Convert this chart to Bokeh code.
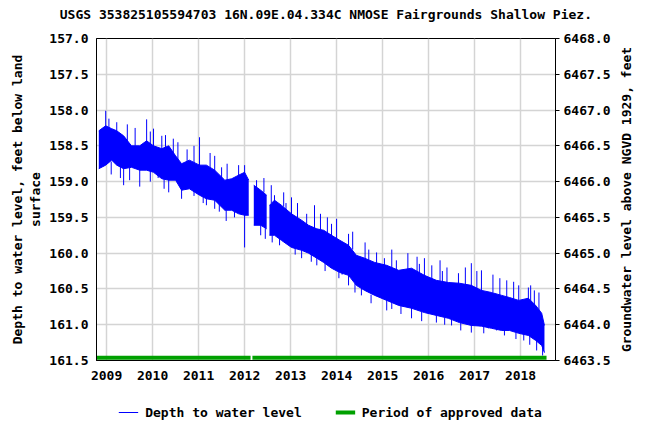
import numpy as np
from bokeh.plotting import figure
from bokeh.layouts import column, row
from bokeh.models import (Range1d, LinearAxis, FixedTicker, PrintfTickFormatter,
                          Legend, LegendItem, Label)
from bokeh.embed import file_html
from bokeh.resources import INLINE

FONT = "DejaVu Sans Mono"
NAN = float("nan")

title_text = "USGS 353825105594703 16N.09E.04.334C NMOSE Fairgrounds Shallow Piez."
left_label = "Depth to water level, feet below land\nsurface"
right_label = "Groundwater level above NGVD 1929, feet"
depth_ticks = [157.0, 157.5, 158.0, 158.5, 159.0, 159.5, 160.0, 160.5, 161.0, 161.5]
elev_ticks = [6463.5, 6464.0, 6464.5, 6465.0, 6465.5, 6466.0, 6466.5, 6467.0, 6467.5, 6468.0]
year_ticks = [2009, 2010, 2011, 2012, 2013, 2014, 2015, 2016, 2017, 2018]

# dense band of the depth record (decimal year, shallow edge, deep edge); NaN = gap
band_t = [2008.83, 2008.98, 2009.11, 2009.22, 2009.37, 2009.54, 2009.72, 2009.87,
          2010.02, 2010.20, 2010.35, 2010.50, 2010.63, 2010.80, 2011.02, 2011.17,
          2011.35, 2011.57, 2011.72, 2011.87, 2012.00, 2012.09, NAN,
          2012.20, 2012.35, 2012.48, NAN,
          2012.54, 2012.65, 2012.80, 2013.02, 2013.24, 2013.39, 2013.57, 2013.72,
          2013.89, 2014.07, 2014.26, 2014.43, 2014.61, 2014.83, 2015.09, 2015.35,
          2015.63, 2015.91, 2016.17, 2016.43, 2016.67, 2016.93, 2017.15, 2017.37,
          2017.59, 2017.76, 2017.96, 2018.17, 2018.33, 2018.46, 2018.52]
band_top = [158.29, 158.22, 158.26, 158.29, 158.36, 158.50, 158.50, 158.43,
            158.50, 158.54, 158.50, 158.64, 158.75, 158.70, 158.77, 158.77,
            158.84, 158.98, 158.96, 158.91, 158.87, 158.98, NAN,
            159.05, 159.12, 159.19, NAN,
            159.33, 159.26, 159.33, 159.45, 159.54, 159.61, 159.66, 159.68,
            159.75, 159.82, 159.89, 160.03, 160.07, 160.13, 160.17, 160.24,
            160.21, 160.31, 160.38, 160.41, 160.42, 160.45, 160.52, 160.55,
            160.59, 160.62, 160.66, 160.63, 160.73, 160.84, 161.01]
band_bot = [158.82, 158.77, 158.70, 158.77, 158.82, 158.80, 158.84, 158.84,
            158.87, 158.96, 158.98, 158.98, 159.12, 159.10, 159.19, 159.24,
            159.26, 159.40, 159.40, 159.45, 159.47, 159.47, NAN,
            159.61, 159.61, 159.66, NAN,
            159.75, 159.75, 159.82, 159.92, 159.96, 160.00, 160.07, 160.13,
            160.21, 160.27, 160.31, 160.45, 160.52, 160.59, 160.66, 160.73,
            160.77, 160.83, 160.87, 160.91, 160.97, 161.01, 161.02, 161.05,
            161.08, 161.08, 161.12, 161.15, 161.22, 161.29, 161.39]

# upward (shallower) spikes: decimal year, tip depth, base depth
up_t = [2008.98, 2009.05, 2009.22, 2009.45, 2009.62, 2009.87, 2009.95, 2010.02,
        2010.20, 2010.28, 2010.45, 2010.55, 2010.75, 2010.90, 2011.02, 2011.25,
        2011.35, 2011.50, 2011.62, 2011.87, 2012.00, 2012.26, 2012.42, 2012.58,
        2012.65, 2012.85, 2012.90, 2013.02, 2013.15, 2013.35, 2013.52, 2013.65,
        2013.80, 2013.89, 2014.00, 2014.26, 2014.35, 2014.62, 2014.70, 2014.87,
        2015.04, 2015.20, 2015.30, 2015.55, 2015.75, 2015.80, 2015.91, 2016.07,
        2016.25, 2016.30, 2016.40, 2016.65, 2016.80, 2016.93, 2017.05, 2017.15,
        2017.40, 2017.55, 2017.70, 2017.85, 2017.96, 2018.17, 2018.22, 2018.30,
        2018.40]
up_tip = [158.01, 158.12, 158.17, 158.20, 158.25, 158.13, 158.30, 158.26,
          158.36, 158.35, 158.40, 158.45, 158.55, 158.50, 158.38, 158.60,
          158.64, 158.80, 158.75, 158.77, 158.77, 158.98, 158.95, 159.05,
          159.19, 159.15, 159.30, 159.22, 159.30, 159.45, 159.33, 159.45,
          159.50, 159.59, 159.52, 159.73, 159.70, 159.85, 159.95, 159.99,
          160.07, 159.95, 160.10, 160.00, 160.05, 160.15, 160.07, 160.17,
          160.10, 160.25, 160.20, 160.28, 160.20, 160.14, 160.25, 160.24,
          160.30, 160.35, 160.38, 160.40, 160.45, 160.48, 160.45, 160.52,
          160.55]
up_base = [158.30, 158.30, 158.35, 158.45, 158.50, 158.50, 158.50, 158.55,
           158.60, 158.55, 158.60, 158.70, 158.75, 158.75, 158.85, 158.80,
           158.90, 159.00, 159.00, 159.00, 158.95, 159.15, 159.15, 159.30,
           159.35, 159.35, 159.45, 159.50, 159.52, 159.65, 159.70, 159.68,
           159.75, 159.80, 159.85, 159.95, 159.95, 160.10, 160.15, 160.20,
           160.25, 160.20, 160.25, 160.25, 160.25, 160.35, 160.35, 160.40,
           160.40, 160.42, 160.42, 160.45, 160.45, 160.50, 160.50, 160.55,
           160.55, 160.60, 160.62, 160.65, 160.70, 160.70, 160.68, 160.75,
           160.80]

# downward (deeper) spikes: decimal year, tip depth, base depth
dn_t = [2009.10, 2009.30, 2009.37, 2009.50, 2009.72, 2009.95, 2010.12, 2010.25,
        2010.35, 2010.63, 2010.90, 2011.10, 2011.17, 2011.35, 2011.45, 2011.60,
        2011.78, 2012.00, 2012.35, 2012.45, 2012.60, 2012.76, 2013.10, 2013.24,
        2013.45, 2013.57, 2013.75, 2014.05, 2014.12, 2014.26, 2014.40, 2014.54,
        2014.75, 2015.09, 2015.20, 2015.40, 2015.45, 2015.63, 2015.85, 2016.17,
        2016.35, 2016.50, 2016.70, 2016.93, 2017.20, 2017.30, 2017.48, 2017.65,
        2017.90, 2018.07, 2018.20, 2018.35, 2018.48]
dn_tip = [158.90, 158.95, 159.05, 158.98, 159.07, 159.00, 158.95, 159.10,
          159.15, 159.24, 159.20, 159.30, 159.33, 159.38, 159.42, 159.55,
          159.50, 159.92, 159.75, 159.80, 159.85, 159.89, 160.02, 160.07,
          160.12, 160.17, 160.25, 160.35, 160.30, 160.45, 160.55, 160.59,
          160.70, 160.80, 160.78, 160.85, 160.75, 160.91, 160.95, 160.97,
          161.00, 161.01, 161.08, 161.11, 161.12, 161.05, 161.08, 161.15,
          161.20, 161.22, 161.28, 161.36, 161.43]
dn_base = [158.72, 158.78, 158.78, 158.80, 158.80, 158.85, 158.85, 158.95,
           158.95, 159.05, 159.10, 159.18, 159.20, 159.22, 159.30, 159.40,
           159.42, 159.40, 159.55, 159.65, 159.75, 159.75, 159.92, 159.90,
           160.00, 160.00, 160.12, 160.25, 160.20, 160.25, 160.42, 160.45,
           160.58, 160.60, 160.68, 160.73, 160.68, 160.72, 160.82, 160.82,
           160.90, 160.88, 160.96, 160.95, 161.02, 160.98, 161.00, 161.07,
           161.11, 161.10, 161.15, 161.18, 161.25]

# periods of approved data (decimal year start, end)
approved_start = [2008.70, 2012.17]
approved_end = [2012.13, 2018.565]
APPROVED_DEPTH = 161.46

BLUE = "#0000ff"
GREEN = "#00a000"


def style_axis(ax):
    ax.major_label_text_font = FONT
    ax.major_label_text_font_size = "13px"
    ax.major_label_text_font_style = "bold"
    ax.major_label_text_color = "black"
    ax.axis_label_text_font = FONT
    ax.axis_label_text_font_size = "13px"
    ax.axis_label_text_font_style = "bold"
    ax.axis_label_text_color = "black"
    ax.axis_line_color = "black"
    ax.minor_tick_line_color = None
    ax.major_tick_in = 0


def blank_strip(width, height):
    f = figure(width=width, height=height, output_backend="svg", toolbar_location=None,
               x_range=Range1d(0, 1), y_range=Range1d(0, 1), min_border=0,
               background_fill_color="white", border_fill_color="white")
    f.axis.visible = False
    f.grid.visible = False
    f.outline_line_color = None
    return f


# title strip
tf = blank_strip(660, 24)
tf.add_layout(Label(x=0.493, y=0.42, text=title_text, text_align="center",
                    text_baseline="middle", text_font=FONT, text_font_size="13px",
                    text_font_style="bold", text_color="black"))

p = figure(width=615, height=366, output_backend="svg", toolbar_location=None,
           x_range=Range1d(2008.78, 2018.76), y_range=Range1d(161.5, 157.0),
           min_border_left=96, min_border_right=60, min_border_top=14,
           min_border_bottom=30, background_fill_color="white",
           border_fill_color="white")

p.outline_line_color = "black"
p.outline_line_width = 1

p.xgrid.ticker = FixedTicker(ticks=year_ticks)
p.ygrid.ticker = FixedTicker(ticks=depth_ticks)
for g in (p.xgrid, p.ygrid):
    g.grid_line_color = "#d4d4d4"
    g.grid_line_width = 1.5

xa = p.xaxis[0]
xa.ticker = FixedTicker(ticks=year_ticks)
xa.formatter = PrintfTickFormatter(format="%d")
style_axis(xa)
xa.major_tick_out = 0
xa.major_label_standoff = 10

ya = p.yaxis[0]
ya.ticker = FixedTicker(ticks=depth_ticks)
ya.formatter = PrintfTickFormatter(format="%.1f")
ya.axis_label = left_label
style_axis(ya)
ya.major_tick_out = 0
ya.major_label_standoff = 8
ya.axis_label_standoff = 3

p.extra_y_ranges = {"elev": Range1d(6463.5, 6468.0)}
ra = LinearAxis(y_range_name="elev", ticker=FixedTicker(ticks=elev_ticks),
                formatter=PrintfTickFormatter(format="%.1f"))
style_axis(ra)
ra.major_tick_out = 4
ra.major_tick_line_color = "black"
ra.major_label_standoff = 4
p.add_layout(ra, "right")

# band, split on gaps
bt = np.array(band_t)
btop = np.array(band_top)
bbot = np.array(band_bot)
breaks = np.where(np.isnan(bt))[0]
starts = [0] + list(breaks + 1)
ends = list(breaks) + [len(bt)]
for s, e in zip(starts, ends):
    p.varea(x=bt[s:e], y1=btop[s:e], y2=bbot[s:e], fill_color=BLUE)
    p.line(bt[s:e], btop[s:e], line_color=BLUE, line_width=1)
    p.line(bt[s:e], bbot[s:e], line_color=BLUE, line_width=1)

p.segment(x0=up_t, y0=up_tip, x1=up_t, y1=up_base, line_color=BLUE, line_width=1)
p.segment(x0=dn_t, y0=dn_tip, x1=dn_t, y1=dn_base, line_color=BLUE, line_width=1)

p.segment(x0=approved_start, y0=[APPROVED_DEPTH] * len(approved_start),
          x1=approved_end, y1=[APPROVED_DEPTH] * len(approved_end),
          line_color=GREEN, line_width=4)

# narrow strip carrying the right-hand axis title (reads bottom to top)
rf = figure(width=45, height=366, output_backend="svg", toolbar_location=None,
            x_range=Range1d(0, 1), y_range=Range1d(0, 1),
            min_border_left=18, min_border_right=0, min_border_top=14,
            min_border_bottom=30, background_fill_color="white",
            border_fill_color="white")
rf.xaxis.visible = False
rf.grid.visible = False
rf.outline_line_color = None
ry = rf.yaxis[0]
ry.ticker = FixedTicker(ticks=[])
ry.axis_label = right_label
style_axis(ry)
ry.axis_line_color = None
ry.major_tick_line_color = None
ry.major_tick_out = 0
ry.major_label_standoff = 0
ry.axis_label_standoff = 0

# legend strip below the chart
lf = blank_strip(660, 35)
leg_line = lf.line(x=[NAN], y=[NAN], line_color=BLUE, line_width=1)
leg_appr = lf.line(x=[NAN], y=[NAN], line_color=GREEN, line_width=4)
legend = Legend(items=[LegendItem(label="Depth to water level", renderers=[leg_line]),
                       LegendItem(label="Period of approved data", renderers=[leg_appr])],
                location="top_center", orientation="horizontal",
                glyph_width=20, glyph_height=20, label_standoff=7, spacing=33,
                padding=0, margin=12, border_line_alpha=0, background_fill_alpha=0,
                label_text_font=FONT, label_text_font_size="13px",
                label_text_font_style="bold", label_text_color="black")
lf.add_layout(legend)

layout = column(tf, row(p, rf, spacing=0), lf, spacing=0)
open("out.html", "w").write(file_html(layout, INLINE))
